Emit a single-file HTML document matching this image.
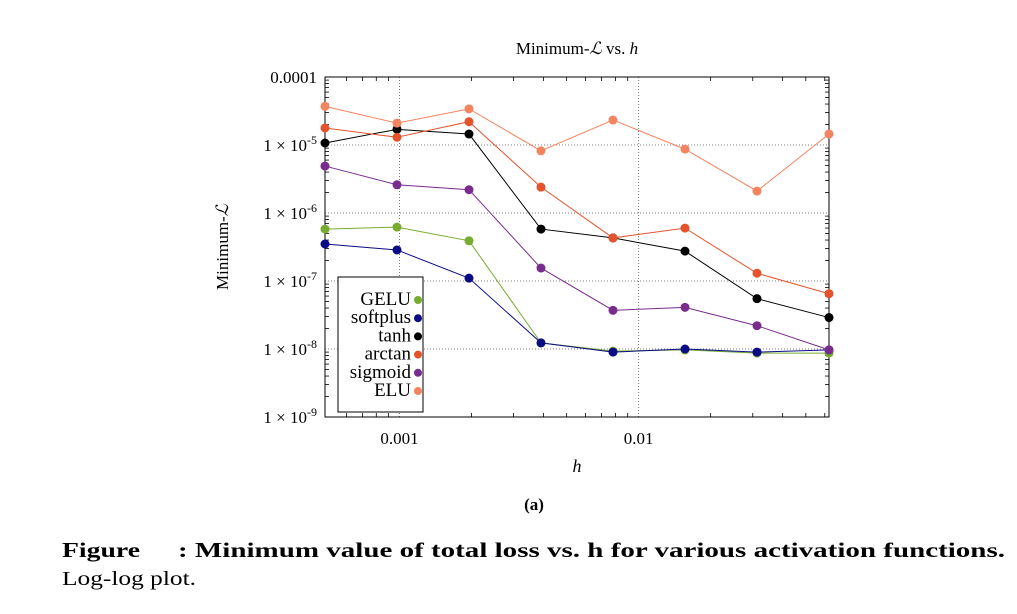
<!DOCTYPE html>
<html><head><meta charset="utf-8"><style>
body{margin:0;background:#fff;width:1017px;height:609px;overflow:hidden;font-family:"Liberation Serif",serif}
svg text{font-family:"Liberation Serif",serif}
</style></head><body>
<svg id="c" width="1017" height="609"></svg>
<script>
const hVals=[1/2048,1/1024,1/512,1/256,1/128,1/64,1/32,1/16];
const seriesNames=["GELU","softplus","tanh","arctan","sigmoid","ELU"];
const seriesColors=["#77ac30","#0b0b85","#000000","#e4532c","#7a2c8c","#f4835f"];
const gelu=[5.8e-7,6.2e-7,3.9e-7,1.23e-8,9.3e-9,9.7e-9,8.7e-9,8.7e-9];
const softplus=[3.5e-7,2.86e-7,1.1e-7,1.23e-8,9e-9,1e-8,9e-9,9.7e-9];
const tanh=[1.07e-5,1.7e-5,1.45e-5,5.8e-7,4.3e-7,2.75e-7,5.5e-8,2.9e-8];
const arctan=[1.78e-5,1.3e-5,2.2e-5,2.4e-6,4.3e-7,6e-7,1.3e-7,6.5e-8];
const sigmoid=[4.9e-6,2.6e-6,2.2e-6,1.55e-7,3.7e-8,4.1e-8,2.2e-8,9.7e-9];
const elu=[3.7e-5,2.1e-5,3.4e-5,8.2e-6,2.33e-5,8.7e-6,2.1e-6,1.45e-5];
const yTickExp=[-4,-5,-6,-7,-8,-9];
const xTickVals=[0.001,0.01];
const xTickLabels=["0.001","0.01"];
const allSeries=[gelu,softplus,tanh,arctan,sigmoid,elu];

const NS="http://www.w3.org/2000/svg";
const svg=document.getElementById('c');
const L=325,R=829,T=77,B=417;
const xMin=Math.log10(1/2048),xMax=Math.log10(1/16);
const X=v=>L+(Math.log10(v)-xMin)/(xMax-xMin)*(R-L);
const Y=v=>T+(-4-Math.log10(v))/5*(B-T);
function el(t,a,txt){const e=document.createElementNS(NS,t);for(const k in a)e.setAttribute(k,a[k]);if(txt!=null)e.textContent=txt;svg.appendChild(e);return e;}

yTickExp.forEach(ex=>{const y=Y(Math.pow(10,ex));
 const g=el('line',{x1:L,x2:R,y1:y,y2:y,stroke:'#555','stroke-width':0.8,'stroke-dasharray':'1,2'});
 
 const t=el('text',{x:L-8,y:y+6,'text-anchor':'end','font-size':17});
 
 if(ex===-4){t.textContent='0.0001';}else{t.innerHTML='1 × 10<tspan dy="-7" font-size="12">'+ex+'</tspan>';}
 for(let m=2;m<10&&ex>-9;m++){const ym=Y(m*Math.pow(10,ex-1));
  el('line',{x1:L,x2:L+4,y1:ym,y2:ym,stroke:'#000','stroke-width':0.8});el('line',{x1:R,x2:R-4,y1:ym,y2:ym,stroke:'#000','stroke-width':0.8});}
});
xTickVals.forEach((v,i)=>{const x=X(v);
 const g=el('line',{x1:x,x2:x,y1:T,y2:B,stroke:'#555','stroke-width':0.8,'stroke-dasharray':'1,2'});
 
 const t=el('text',{x:x,y:B+27,'text-anchor':'middle','font-size':17},xTickLabels[i]);
 
});
[0.0006,0.0007,0.0008,0.0009,0.002,0.003,0.004,0.005,0.006,0.007,0.008,0.009,0.02,0.03,0.04,0.05,0.06].forEach(v=>{const x=X(v);
 el('line',{x1:x,x2:x,y1:B,y2:B-4,stroke:'#000','stroke-width':0.8});el('line',{x1:x,x2:x,y1:T,y2:T+4,stroke:'#000','stroke-width':0.8});});
const fr=el('rect',{x:L,y:T,width:R-L,height:B-T,fill:'none',stroke:'#000','stroke-width':1});


allSeries.forEach((s,si)=>{
 const p=el('polyline',{points:s.map((v,i)=>X(hVals[i])+','+Y(v)).join(' '),fill:'none',stroke:seriesColors[si],'stroke-width':1});
 
 s.forEach((v,i)=>{const c=el('circle',{cx:X(hVals[i]),cy:Y(v),r:4.5,fill:seriesColors[si]});
  });
});

const lg=el('rect',{x:338,y:277,width:85,height:135,fill:'#fff',stroke:'#000','stroke-width':1});

seriesNames.forEach((n,i)=>{const y=300+i*18.2;
 const t=el('text',{x:411,y:y+5,'text-anchor':'end','font-size':19},n);
 
 const c=el('circle',{cx:418,cy:y,r:4,fill:seriesColors[i]});
 
});

let t=el('text',{x:577,y:54,'text-anchor':'middle','font-size':17});t.innerHTML='Minimum-<tspan font-style="italic">ℒ</tspan> vs. <tspan font-style="italic">h</tspan>';

t=el('text',{x:0,y:0,'text-anchor':'middle','font-size':17,transform:'translate(228,247) rotate(-90)'});t.innerHTML='Minimum-<tspan font-style="italic">ℒ</tspan>';

t=el('text',{x:577,y:472,'text-anchor':'middle','font-size':18,'font-style':'italic'},'h');

t=el('text',{x:534,y:510,'text-anchor':'middle','font-size':17,'font-weight':'bold'},'(a)');

t=el('text',{x:62,y:557,'font-size':21,'font-weight':'bold',textLength:78,lengthAdjust:'spacingAndGlyphs'},'Figure');

t=el('text',{x:178,y:557,'font-size':21,'font-weight':'bold',textLength:827,lengthAdjust:'spacingAndGlyphs'},': Minimum value of total loss vs. h for various activation functions.');

t=el('text',{x:62,y:585,'font-size':20,textLength:134,lengthAdjust:'spacingAndGlyphs'},'Log-log plot.');

</script>
</body></html>
